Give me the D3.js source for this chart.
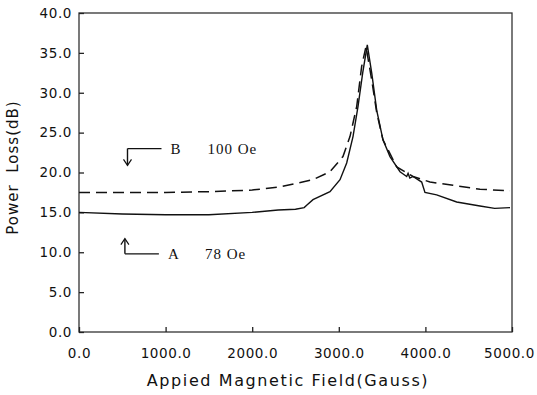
<!DOCTYPE html>
<html><head><meta charset="utf-8">
<script src="https://cdn.jsdelivr.net/npm/d3@7"></script>
<style>
html,body{margin:0;padding:0;background:#fff;}
text{font-family:"DejaVu Sans",sans-serif;fill:#111;}
</style></head>
<body><svg id="c" width="537" height="395"></svg>
<script>
// Data
const xTicks = [0, 1000, 2000, 3000, 4000, 5000];
const yTicks = [0, 5, 10, 15, 20, 25, 30, 35, 40];
const fieldA = [0, 500, 1000, 1500, 2000, 2300, 2500, 2600, 2629, 2702, 2898, 3014, 3091, 3164, 3222, 3276, 3329, 3380, 3438, 3510, 3591, 3707, 3784, 3800, 3820, 3857, 3957, 3995, 4130, 4361, 4630, 4800, 4977];
const lossA  = [15.0, 14.8, 14.7, 14.7, 15.0, 15.3, 15.4, 15.6, 15.9, 16.6, 17.6, 19.1, 21.2, 24.5, 28.3, 32.5, 36.0, 32.5, 27.8, 24.1, 22.0, 20.1, 19.5, 19.9, 19.3, 19.5, 18.8, 17.5, 17.2, 16.3, 15.8, 15.5, 15.6];
const fieldB = [0, 1000, 1500, 2000, 2321, 2702, 2898, 3048, 3129, 3207, 3264, 3314, 3380, 3438, 3510, 3669, 3857, 4053, 4319, 4630, 4977];
const lossB  = [17.5, 17.5, 17.6, 17.8, 18.2, 19.1, 20.1, 22.0, 24.5, 28.3, 33.3, 35.8, 31.6, 27.5, 24.1, 20.7, 19.5, 18.8, 18.4, 17.9, 17.7];
const labelB = ["B", "100 Oe"];
const labelA = ["A", "78 Oe"];
const xTitle = "Appied Magnetic Field(Gauss)";
const yTitle = "Power  Loss(dB)";

const svg = d3.select("#c");
const L = 79, R = 512, T = 13, B = 332;
const x = d3.scaleLinear().domain([0, 5000]).range([L, R]);
const y = d3.scaleLinear().domain([0, 40]).range([B, T]);

// frame
svg.append("rect").attr("x", L).attr("y", T).attr("width", R - L).attr("height", B - T)
  .attr("fill", "none").attr("stroke", "#333").attr("stroke-width", 1.3);

const fmt = d => d.toFixed(1);
const gx = svg.append("g").attr("transform", `translate(0,${B})`)
  .call(d3.axisBottom(x).tickValues(xTicks).tickSize(-5).tickPadding(16).tickFormat(fmt));
const gy = svg.append("g").attr("transform", `translate(${L},0)`)
  .call(d3.axisLeft(y).tickValues(yTicks).tickSize(-5).tickPadding(7).tickFormat(fmt));
[gx, gy].forEach(g => {
  g.select(".domain").remove();
  g.selectAll("line").attr("stroke", "#222").attr("stroke-width", 1.3);
  g.selectAll("text").style("font-family", '"DejaVu Sans",sans-serif').style("font-size", "13.5px").style("letter-spacing", "0.6px").attr("fill", "#111");
});
gx.selectAll(".tick text").attr("dx", d => d === 5000 ? -3 : 0);

const line = d3.line().x(d => x(d[0])).y(d => y(d[1]));
const dataA = fieldA.map((f, i) => [f, lossA[i]]);
const dataB = fieldB.map((f, i) => [f, lossB[i]]);
svg.append("path").datum(dataB).attr("d", line).attr("fill", "none")
  .attr("stroke", "#111").attr("stroke-width", 1.5).attr("stroke-dasharray", "11,6");
svg.append("path").datum(dataA).attr("d", line).attr("fill", "none")
  .attr("stroke", "#111").attr("stroke-width", 1.4);

// annotations
function arrowLabel(fx, vy, vTip, txt) {
  const ax = x(fx), ay = y(vy), ty = y(vTip);
  svg.append("line").attr("x1", ax).attr("y1", ay).attr("x2", ax + 34).attr("y2", ay)
    .attr("stroke", "#111").attr("stroke-width", 1.4);
  svg.append("line").attr("x1", ax).attr("y1", ay).attr("x2", ax).attr("y2", ty)
    .attr("stroke", "#111").attr("stroke-width", 1.4);
  const dir = ty > ay ? -1 : 1;
  svg.append("path").attr("d", `M${ax - 4},${ty + dir * 6}L${ax},${ty}L${ax + 4},${ty + dir * 6}`)
    .attr("fill", "none").attr("stroke", "#111").attr("stroke-width", 1.2);
  svg.append("text").attr("x", ax + 43).attr("y", ay + 5).text(txt[0])
    .style("font-family", '"Liberation Serif",serif').style("font-size", "15px");
  svg.append("text").attr("x", ax + 80).attr("y", ay + 5).text(txt[1])
    .style("font-family", '"Liberation Serif",serif').style("font-size", "15px").style("letter-spacing", "1px");
}
arrowLabel(560, 23.0, 20.9, labelB);
arrowLabel(530, 9.8, 11.7, labelA);

svg.append("text").attr("x", 288).attr("y", 386).attr("text-anchor", "middle")
  .style("font-size", "16px").style("letter-spacing", "1.6px").text(xTitle);
svg.append("text").attr("transform", `translate(18,${(T + B) / 2 - 5}) rotate(-90)`).attr("text-anchor", "middle")
  .style("font-size", "15px").style("letter-spacing", "1px").attr("xml:space", "preserve").text(yTitle);
</script></body></html>
